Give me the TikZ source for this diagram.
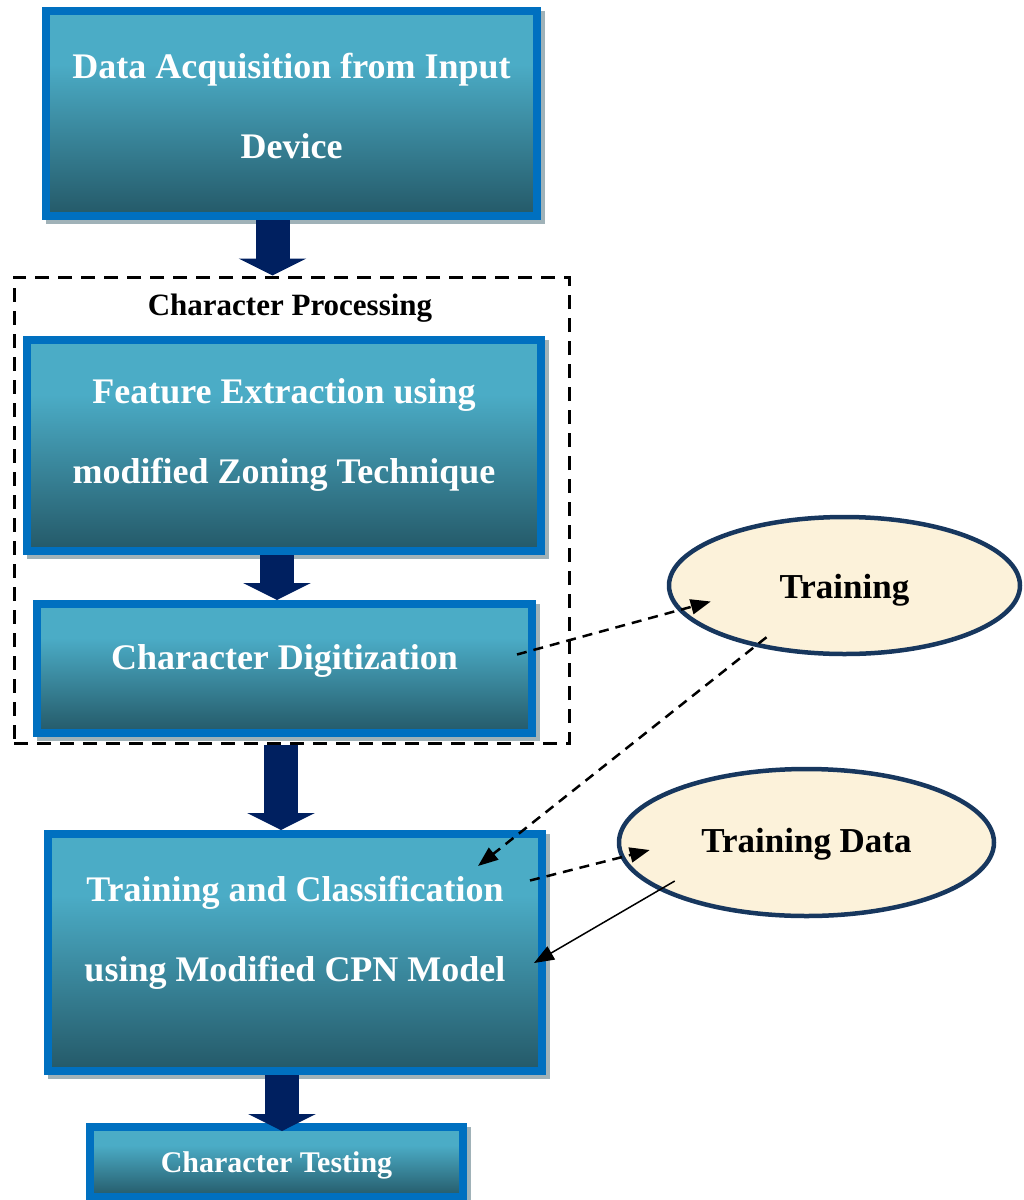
\documentclass[tikz,border=0pt]{standalone}
\usepackage{fontspec}
\setmainfont{Liberation Serif}
\usetikzlibrary{arrows.meta,shapes.geometric,shadows}
\definecolor{teallight}{RGB}{75,172,198}
\definecolor{tealdark}{RGB}{33,82,96}
\definecolor{boxblue}{RGB}{0,112,192}
\definecolor{arrownavy}{RGB}{0,32,96}
\definecolor{ovalcream}{RGB}{252,242,218}
\definecolor{ovalnavy}{RGB}{23,55,94}
\definecolor{shadowgray}{RGB}{160,178,184}
\pgfdeclareverticalshading{tealgrad}{100bp}{color(0bp)=(tealdark); color(22bp)=(tealdark); color(62bp)=(teallight); color(100bp)=(teallight)}

\begin{document}
\begin{tikzpicture}[x=1pt, y=-1pt,
  tealbox/.style={draw=boxblue, line width=8pt, shade, shading=tealgrad, inner sep=0pt, align=center, text=white,
    font=\bfseries\fontsize{36}{80}\selectfont,
    drop shadow={shadow xshift=4pt, shadow yshift=-4pt, fill=shadowgray, draw=shadowgray, line width=8pt, opacity=1}},
  oval/.style={ellipse, draw=ovalnavy, line width=4.5pt, fill=ovalcream, inner sep=0pt, font=\bfseries\fontsize{35}{40}\selectfont},
  bigarrow/.style={draw=arrownavy, line width=34pt, -{Triangle[width=67pt, length=17pt]}},
  dasharrow/.style={line width=2.5pt, dash pattern=on 10pt off 7pt, -{Triangle[width=15pt, length=20pt]}}]
  \useasboundingbox (0,0) rectangle (1024,1200);
  \node[tealbox, minimum width=491pt, minimum height=205pt, text height=105pt, text depth=16pt] (acq) at (291.5,113.5) {Data Acquisition from Input\\Device};
  \node[draw, line width=3pt, dash pattern=on 14pt off 9pt, minimum width=555pt, minimum height=466pt] (procframe) at (291.5,510) {};
  \node[anchor=base, font=\bfseries\fontsize{31}{36}\selectfont] (proclbl) at (290,315) {Character Processing};
  \node[tealbox, minimum width=514pt, minimum height=211pt, text height=91pt, text depth=16pt] (feat) at (284,445.5) {Feature Extraction using\\modified Zoning Technique};
  \node[tealbox, minimum width=495pt, minimum height=129pt, text height=18pt, text depth=17pt] (digit) at (284.5,668.5) {Character Digitization};
  \node[tealbox, minimum width=494pt, minimum height=237pt, text height=73pt, text depth=16pt] (classify) at (295,952.5) {Training and Classification\\using Modified CPN Model};
  \node[tealbox, minimum width=373pt, minimum height=70pt, font=\bfseries\fontsize{30}{36}\selectfont, text height=20pt, text depth=0pt] (testing) at (276.5,1162) {Character Testing};
  \node[oval, minimum width=351pt, minimum height=137pt, text height=25pt, text depth=0pt] (train) at (844.5,585.5) {Training};
  \node[oval, minimum width=375pt, minimum height=147pt, text height=20pt, text depth=0pt] (tdata) at (806.5,842.5) {Training Data};
  \draw[bigarrow] ([xshift=-19pt]acq.south) -- ([xshift=-19pt]acq.south |- procframe.north);
  \draw[bigarrow] ([xshift=-7pt]feat.south) -- ([xshift=-7pt]feat.south |- digit.north);
  \draw[bigarrow] ([xshift=-10.5pt]procframe.south) -- ([xshift=-10.5pt]procframe.south |- classify.north);
  \draw[bigarrow] ([xshift=-13pt]classify.south) -- ([xshift=-13pt,yshift=-8pt]classify.south |- testing.north);
  \draw[dasharrow] ([shift={(-19,-14)}]digit.east) -- ([shift={(44,16)}]train.west);
  \draw[dasharrow] ([shift={(-78,-19)}]train.south) -- ([shift={(-68,36)}]classify.north east);
  \draw[dasharrow] ([shift={(-16,-72)}]classify.east) -- ([shift={(33,7.5)}]tdata.west);
  \draw[line width=1.5pt, -{Triangle[width=15pt, length=20pt]}] ([shift={(58,38.5)}]tdata.west) -- ([shift={(-12,10.5)}]classify.east);
\end{tikzpicture}
\end{document}
